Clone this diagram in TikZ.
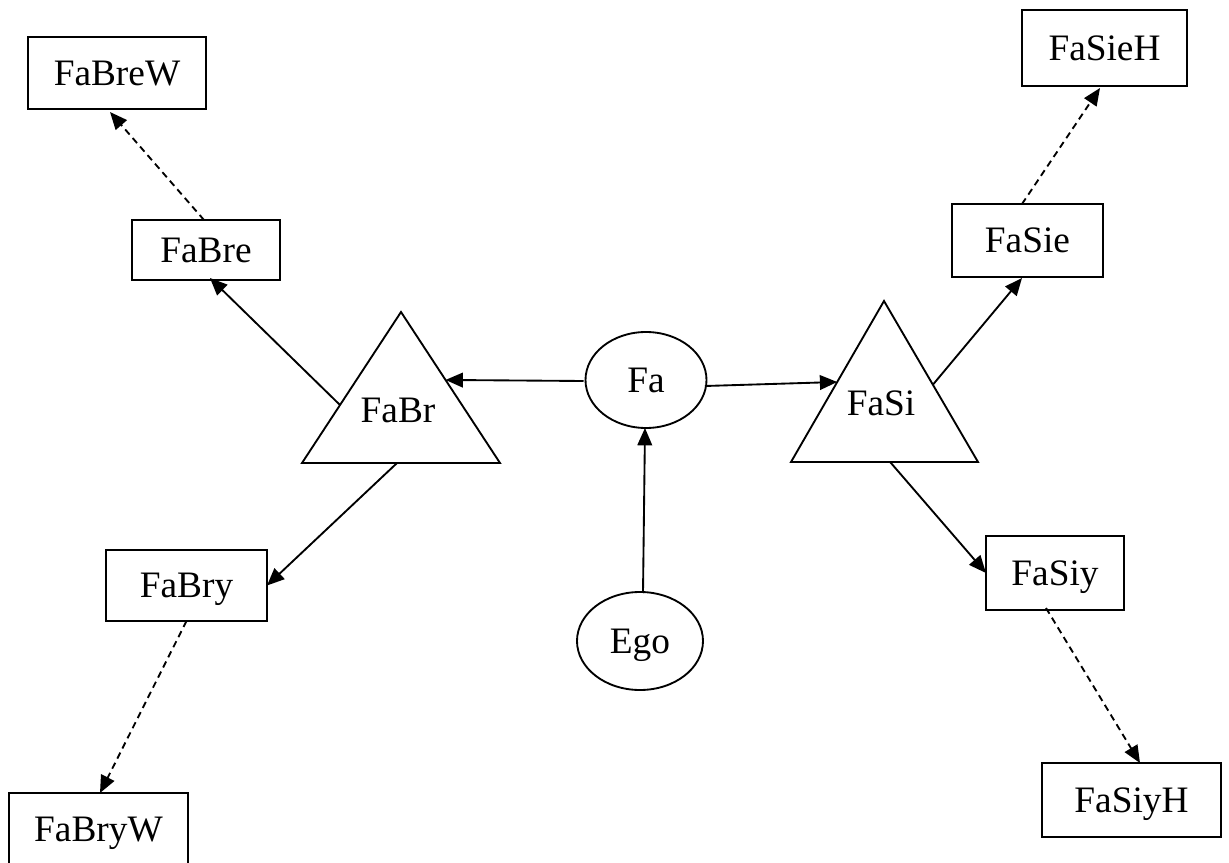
\documentclass[tikz,border=0pt]{standalone}
\usepackage{fontspec}
\setmainfont{Liberation Serif}
\usetikzlibrary{arrows.meta,calc,shapes.geometric}
\begin{document}
\begin{tikzpicture}[x=0.75pt,y=-0.75pt,
  lw/.style={line width=1.4pt},
  label/.style={font=\fontsize{28}{33}\selectfont, inner sep=0pt, outer sep=0pt,
    text height=18.5pt, text depth=0pt},
  box/.style={label, draw, lw},
  oval/.style={label, draw, lw, ellipse},
  tri/.style={lw, line join=miter},
  link/.style={lw, -{Triangle[length=13pt,width=11pt]}},
  kin/.style={link, dash pattern=on 5pt off 3.5pt}]
\useasboundingbox (0,0) rectangle (1229,863);

% central ovals
\node[oval, minimum width=90.75pt, minimum height=72pt] (Fa) at (646,380) {Fa};
\node[oval, minimum width=94.5pt, minimum height=73.5pt] (Ego) at (640,641) {Ego};

% triangles
\coordinate (brA) at (401,312);
\coordinate (brL) at (302,463);
\coordinate (brR) at (500,463);
\draw[tri] (brA) -- (brL) -- (brR) -- cycle;
\node[label] (FaBr) at (398,410) {FaBr};

\coordinate (siA) at (884,301);
\coordinate (siL) at (791,462);
\coordinate (siR) at (978,462);
\draw[tri] (siA) -- (siL) -- (siR) -- cycle;
\node[label] (FaSi) at (881,403) {FaSi};

% attachment points on the triangle edges
\coordinate (brIn)   at ($(brA)!0.45!(brR)$);
\coordinate (brUp)   at ($(brA)!0.616!(brL)$);
\coordinate (brDown) at ($(brL)!0.48!(brR)$);
\coordinate (siIn)   at ($(siA)!0.503!(siL)$);
\coordinate (siUp)   at ($(siA)!0.52!(siR)$);
\coordinate (siDown) at ($(siL)!0.53!(siR)$);

% boxes
\node[box, minimum width=133.5pt, minimum height=54pt]    (FaBreW) at (117,73)       {FaBreW};
\node[box, minimum width=111pt,   minimum height=45pt]    (FaBre)  at (206,250)      {FaBre};
\node[box, minimum width=120.75pt,minimum height=53.25pt] (FaBry)  at (186.5,585.5)  {FaBry};
\node[box, minimum width=134.25pt,minimum height=54.75pt] (FaBryW) at (98.5,829.5)   {FaBryW};
\node[box, minimum width=123.75pt,minimum height=57pt]    (FaSieH) at (1104.5,48)    {FaSieH};
\node[box, minimum width=113.25pt,minimum height=54.75pt] (FaSie)  at (1027.5,240.5) {FaSie};
\node[box, minimum width=103.5pt, minimum height=55.5pt]  (FaSiy)  at (1055,573)     {FaSiy};
\node[box, minimum width=134.25pt,minimum height=55.5pt]  (FaSiyH) at (1131.5,800)   {FaSiyH};

% solid links
\draw[link] ($(Ego.north)+(3,1)$) -- ($(Fa.south)+(-1,0)$);
\draw[link] ($(Fa.west)+(-2,1)$) -- (brIn);
\draw[link] ($(Fa.east)+(-1.5,6)$) -- (siIn);
\draw[link] (brUp) -- ($(FaBre.south)+(4,-2)$);
\draw[link] (brDown) -- (FaBry.east);
\draw[link] (siUp) -- ($(FaSie.south)+(-5.5,1)$);
\draw[link] (siDown) -- (FaSiy.west);

% dashed links
\draw[kin] ($(FaBre.north)+(-2,0)$) -- ($(FaBreW.south)+(-7,3)$);
\draw[kin] (FaBry.south) -- ($(FaBryW.north)+(1.5,0)$);
\draw[kin] ($(FaSie.north)+(-5.5,0)$) -- ($(FaSieH.south)+(-4.5,2)$);
\draw[kin] ($(FaSiy.south)+(-9,-2)$) -- ($(FaSiyH.north)+(8.5,0)$);
\end{tikzpicture}
\end{document}
